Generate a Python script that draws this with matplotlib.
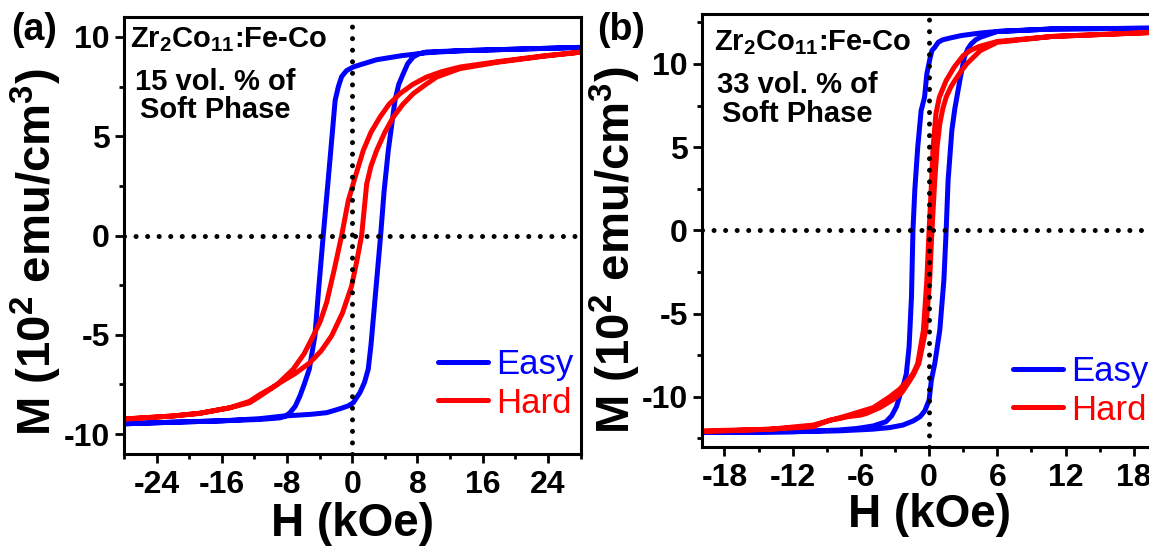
import numpy as np
import matplotlib
matplotlib.use("Agg")
import matplotlib.pyplot as plt
from matplotlib.ticker import MultipleLocator

plt.rcParams['font.family'] = ['Liberation Sans', 'DejaVu Sans']
plt.rcParams['font.weight'] = 'bold'
plt.rcParams['axes.labelweight'] = 'bold'
plt.rcParams['axes.unicode_minus'] = False
plt.rcParams['mathtext.fontset'] = 'custom'
plt.rcParams['mathtext.rm'] = 'Liberation Sans:bold'
plt.rcParams['mathtext.bf'] = 'Liberation Sans:bold'
plt.rcParams['mathtext.it'] = 'Liberation Sans:bold'

# ---- (a) 15 vol.% soft phase: field H (kOe), magnetisation M (10^2 emu/cm^3)
h_easy_a_down = [28, 17.4, 13.2, 9.1, 6, 3, 1, 0.1, -0.7, -1.3, -1.7, -2.1, -2.8, -3.56,
                 -4.1, -4.58, -5.27, -5.9, -6.42, -7.0, -7.64, -8.2, -8.87, -11.3, -16, -22, -28]
m_easy_a_down = [9.47, 9.35, 9.3, 9.2, 9.05, 8.85, 8.6, 8.48, 8.3, 8.0, 7.5, 6.8, 3.5, 0.0,
                 -2.6, -5.05, -6.73, -7.5, -8.08, -8.6, -8.92, -9.1, -9.18, -9.26, -9.33, -9.4, -9.48]
h_easy_a_up = [-28, -22, -16, -11.3, -8.5, -5, -3.14, -1.5, -0.5, 0.12, 0.94, 1.5, 1.96, 2.3,
               2.58, 3.19, 3.48, 3.9, 4.42, 5.24, 5.7, 6.26, 6.8, 7.48, 8.2, 9.13, 13.2, 17.4, 28]
m_easy_a_up = [-9.48, -9.4, -9.33, -9.22, -9.09, -9.0, -8.92, -8.72, -8.58, -8.42, -7.91, -7.4, -6.73, -5.5,
               -4.2, -1.35, 0.0, 2.2, 4.28, 6.8, 7.6, 8.15, 8.65, 8.99, 9.15, 9.24, 9.3, 9.35, 9.47]
h_hard_a_down = [28, 23.4, 17.8, 13.2, 11, 9.13, 7.4, 5.85, 4.5, 3.4, 2.3, 1.35, 0.4,
                 -0.49, -1.3, -2.2, -3.14, -3.9, -4.78, -5.9, -7.24, -9.2, -11.3, -12.6,
                 -15, -18.7, -22.1, -28]
m_hard_a_down = [9.23, 9.04, 8.75, 8.48, 8.25, 7.98, 7.6, 7.14, 6.6, 5.96, 5.2, 4.28, 3.0,
                 1.75, 0.0, -1.7, -3.37, -4.3, -5.05, -5.95, -6.73, -7.5, -8.08, -8.42,
                 -8.67, -8.95, -9.09, -9.24]
h_hard_a_up = [-28, -22.1, -18.7, -15, -12.6, -11.3, -10, -8.87, -7, -5.19, -3.8, -2.53,
               -1.2, -0.07, 0.6, 1.15, 1.77, 2.3, 2.99, 4.0, 5.03, 6.2, 7.48, 9.0, 10.36,
               13.2, 17.8, 23.4, 28]
m_hard_a_up = [-9.24, -9.09, -8.95, -8.67, -8.35, -8.0, -7.7, -7.41, -6.95, -6.4, -5.8, -5.05,
               -3.9, -2.53, -1.2, 0.0, 2.59, 3.5, 4.28, 5.2, 5.96, 6.6, 7.14, 7.6, 7.98,
               8.4, 8.72, 9.02, 9.23]

# ---- (b) 33 vol.% soft phase
h_easy_b_down = [20, 15, 10.8, 6, 4.4, 2.8, 1.8, 1.2, 0.8, 0.5, 0.25, 0.1, -0.05, -0.2, -0.4,
                 -0.7, -1.0, -1.25, -1.42, -1.55, -1.76, -2.0, -2.2, -2.43, -2.87, -3.3, -3.8,
                 -4.9, -6.3, -8, -12, -20]
m_easy_b_down = [12.15, 12.12, 12.1, 11.95, 11.85, 11.7, 11.55, 11.45, 11.3, 11.0, 10.8, 10.4, 9.9, 9.4, 8.0,
                 7.2, 5.0, 2.5, 0.0, -4.0, -7.0, -8.6, -9.15, -9.6, -10.6, -11.15, -11.5,
                 -11.75, -11.9, -12.0, -12.1, -12.15]
h_easy_b_up = [-20, -12, -8, -5, -3.46, -2.3, -1.4, -0.8, -0.38, 0.0, 0.2, 0.5, 0.94, 1.3,
               1.5, 1.67, 2.0, 2.26, 2.7, 3.1, 3.4, 3.7, 4.1, 4.5, 6, 10.8, 20]
m_easy_b_up = [-12.15, -12.1, -12.05, -11.95, -11.85, -11.7, -11.45, -11.2, -10.85, -10.2, -9.0, -8.0, -6.0, -3.0,
               0.0, 3.0, 6.0, 7.3, 9.0, 10.4, 10.9, 11.2, 11.45, 11.6, 11.95, 12.1, 12.15]
h_hard_b_down = [20, 10.8, 6.0, 4.4, 3.6, 3.0, 2.2, 1.5, 1.2, 0.9, 0.6, 0.35, 0.15, 0.0,
                 -0.2, -0.5, -1.0, -1.4, -1.85, -2.6, -3.46, -4.9, -7.3, -10.2, -14, -20]
m_hard_b_down = [11.9, 11.65, 11.35, 11.05, 10.8, 10.5, 9.8, 9.0, 8.5, 8.0, 7.0, 5.0, 2.0, 0.0,
                 -3.0, -6.0, -8.0, -8.6, -9.0, -9.55, -10.0, -10.65, -11.15, -11.7, -11.95, -12.05]
h_hard_b_up = [-20, -14, -10.2, -9.5, -8.7, -7.8, -7.2, -6.0, -5.5, -4.3, -3.1, -2.4, -1.9,
               -1.4, -0.9, -0.3, 0.05, 0.25, 0.5, 0.7, 0.94, 1.2, 1.5, 1.9, 2.26, 2.8, 3.3,
               4.5, 6, 10.8, 20]
m_hard_b_up = [-12.1, -11.95, -11.8, -11.6, -11.4, -11.3, -11.2, -11.1, -11.0, -10.64, -10.14, -9.75, -9.24,
               -8.7, -8.0, -6.0, -3.0, 0.0, 3.0, 5.0, 6.4, 7.3, 8.0, 8.6, 9.0, 9.55, 10.0,
               10.8, 11.3, 11.65, 11.9]

W, H = 1149, 552
fig = plt.figure(figsize=(W / 100, H / 100), dpi=100)


def px_axes(x0, y0, x1, y1):
    return fig.add_axes([x0 / W, 1 - y1 / H, (x1 - x0) / W, (y1 - y0) / H])


def style(ax, xlim, ylim, xmaj, xmin, xlab_y, ylab_x, ylab_y):
    ax.set_xlim(*xlim)
    ax.set_ylim(*ylim)
    ax.xaxis.set_major_locator(MultipleLocator(xmaj))
    ax.xaxis.set_minor_locator(MultipleLocator(xmin))
    ax.yaxis.set_major_locator(MultipleLocator(5))
    ax.yaxis.set_minor_locator(MultipleLocator(2.5))
    for s in ax.spines.values():
        s.set_linewidth(2.2)
    ax.tick_params(which='major', direction='out', length=6.5, width=2.0,
                   labelsize=23, pad=3.5)
    ax.tick_params(which='minor', direction='out', length=3.5, width=2.0)
    ax.tick_params(axis='x', which='major', pad=5)
    dots = dict(color='k', lw=3.6, ls=(0, (0.01, 2.3)), dash_capstyle='round', zorder=5)
    ax.axhline(0, **dots)
    ax.axvline(0, **dots)
    ax.set_xlabel('H (kOe)', fontsize=33, fontweight='bold')
    ax.set_ylabel('M (10$^\\mathrm{2}$ emu/cm$^\\mathrm{3}$)', fontsize=34,
                  fontweight='bold')
    ax.xaxis.set_label_coords(0.5, xlab_y)
    ax.yaxis.set_label_coords(ylab_x, ylab_y)


line_kw = dict(lw=3.6, solid_joinstyle='round', solid_capstyle='round')

ax_a = px_axes(124, 17, 580.5, 454)
ax_a.plot(h_easy_a_down + h_easy_a_up, m_easy_a_down + m_easy_a_up, color='#0000ff',
          label='Easy', **line_kw)
ax_a.plot(h_hard_a_down + h_hard_a_up, m_hard_a_down + m_hard_a_up, color='#ff0000',
          label='Hard', **line_kw)
style(ax_a, (-28, 28), (-11, 11), 8, 4, -0.11, -0.131, 0.462)

ax_b = px_axes(701.7, 14, 1156.5, 446.7)
ax_b.plot(h_easy_b_down + h_easy_b_up, m_easy_b_down + m_easy_b_up, color='#0000ff',
          label='Easy', **line_kw)
ax_b.plot(h_hard_b_down + h_hard_b_up, m_hard_b_down + m_hard_b_up, color='#ff0000',
          label='Hard', **line_kw)
style(ax_b, (-20, 20), (-13, 13), 6, 3, -0.108, -0.129, 0.455)

for ax, lx, ly in [(ax_a, 438, 384), (ax_b, 1013, 391)]:
    ax.legend(loc='center left', bbox_to_anchor=(lx / W, 1 - ly / H),
              bbox_transform=fig.transFigure, frameon=False, borderpad=0,
              borderaxespad=0, handlelength=1.45, handletextpad=0.22,
              labelspacing=0.15, labelcolor='linecolor',
              prop={'weight': 'normal', 'size': 25})

# panel letters and sample notes
fig.text(34 / W, 1 - 30 / H, '(a)', fontsize=27, ha='center', va='center')
fig.text(621 / W, 1 - 30 / H, '(b)', fontsize=27, ha='center', va='center')

notes = [(130, 47, 215, 90, 118, '15'), (714, 50, 797, 93, 122, '33')]
for x1, y1, xc, y2, y3, pct in notes:
    fig.text(x1 / W, 1 - y1 / H, 'Zr$_\\mathrm{2}$Co$_\\mathrm{11}$:Fe-Co', fontsize=21,
             ha='left', va='baseline')
    fig.text(xc / W, 1 - y2 / H, pct + ' vol. % of', fontsize=21, ha='center', va='baseline')
    fig.text(xc / W, 1 - y3 / H, 'Soft Phase', fontsize=21, ha='center', va='baseline')

fig.savefig('out.png', dpi=100)
